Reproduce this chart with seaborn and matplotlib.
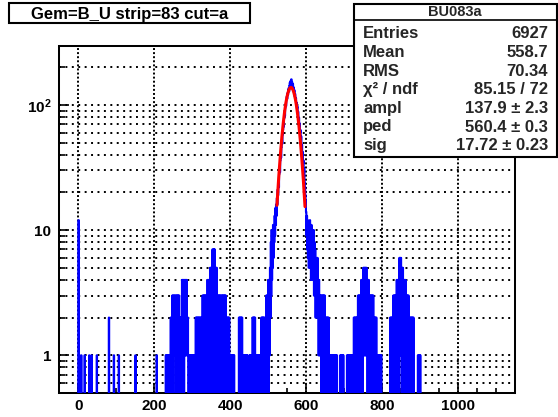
import numpy as np
import pandas as pd
import matplotlib
matplotlib.use("Agg")
import matplotlib.pyplot as plt
import seaborn as sns
from matplotlib.patches import Rectangle
from matplotlib.lines import Line2D
from matplotlib.ticker import FixedLocator, FixedFormatter, MultipleLocator, NullFormatter

# ---- histogram definition: unit-wide ADC bins ----
x_lo, x_hi = -50, 1150

# isolated low-channel entries
single_bins = [0, 7, 16, 28, 34, 48, 80, 93, 106, 150, 206]
single_counts = [12, 1, 1, 1, 1, 1, 2, 1, 1, 1, 1]

# sparse tail regions: bin range, upper count level, lower count level
run_lo = [230, 243, 247, 252, 257, 266, 273, 279, 286, 289, 309, 327, 340, 347, 353, 357,
          360, 365, 371, 376, 389, 398, 423, 433, 451, 459, 466, 472, 482, 491, 495, 500,
          639, 651, 661, 690, 708, 726, 737, 746, 751, 761, 767, 779, 786,
          822, 830, 839, 841, 846, 851, 856, 864, 871, 895]
run_hi = [242, 246, 251, 256, 265, 272, 278, 285, 288, 308, 326, 339, 346, 352, 356, 359,
          364, 370, 375, 388, 397, 410, 432, 446, 458, 465, 468, 481, 490, 494, 499, 502,
          650, 660, 682, 699, 725, 736, 745, 750, 760, 766, 778, 785, 798,
          829, 838, 840, 845, 850, 855, 863, 870, 884, 902]
run_top = [1, 2, 3, 3, 3, 2, 4, 4, 2, 1, 2, 3, 4, 5, 7, 7,
           5, 3, 3, 3, 2, 1, 2, 1, 1, 2, 1, 1, 2, 1, 3, 4,
           3, 2, 1, 1, 1, 2, 3, 4, 5, 4, 3, 2, 1,
           2, 3, 4, 4, 6, 5, 4, 3, 2, 1]
run_base = [0, 0, 0, 1, 0, 0, 0, 1, 1, 0, 0, 0, 0, 0, 0, 1,
            0, 0, 1, 0, 0, 0, 0, 0, 0, 0, 0, 0, 0, 0, 0, 0,
            0, 0, 0, 0, 0, 0, 0, 0, 1, 0, 0, 0, 0,
            0, 0, 1, 0, 1, 0, 0, 0, 0, 0]

# pedestal peak, one count per bin from peak_first
peak_first = 503
peak_counts = [4, 1, 5, 2, 8, 3, 10, 4, 9, 5, 11, 6, 10, 8, 13, 9, 15, 11,
               16, 13, 18, 16, 21, 19, 24, 22, 28, 31,
               29, 36, 40, 38, 46, 52, 49, 58, 63, 70,
               67, 78, 85, 82, 95, 101, 98, 110, 116, 112,
               124, 120, 131, 136, 128, 142, 150, 139, 155, 148,
               160, 145, 152, 141, 147, 133, 138, 126, 131, 117,
               122, 110, 113, 101, 104, 94, 97, 85, 88, 76,
               79, 68, 71, 60, 63, 53, 56, 46, 48, 40,
               42, 34, 36, 29, 31, 24, 22, 19, 17, 14,
               9, 13, 7, 12, 6, 11, 5, 10, 6, 12,
               5, 9, 4, 11, 5, 10, 4, 8, 6, 10,
               3, 8, 3, 7, 2, 6, 3, 5, 2, 6,
               2, 4, 1, 4, 1, 3, 1, 3]

# gaussian fit result
fit_ampl, fit_ped, fit_sig = 137.9, 560.4, 17.72
fit_lo, fit_hi = 523.5, 597.5

title_text = "Gem=B_U strip=83 cut=a"
stats_name = "BU083a"
stats_labels = ["Entries", "Mean", "RMS", "\u03c7\u00b2 / ndf", "ampl", "ped", "sig"]
stats_values = ["6927", "558.7", "70.34", "85.15 / 72",
                "137.9 \u00b1 2.3", "560.4 \u00b1 0.3", "17.72 \u00b1 0.23"]

x_ticks = [0, 200, 400, 600, 800, 1000]
y_ticks = [1, 10, 100]
y_tick_labels = ["1", "10", r"$10^{2}$"]

# ---- fill bin contents ----
counts = np.zeros(x_hi - x_lo)
for b, n in zip(single_bins, single_counts):
    counts[b - x_lo] = n
for lo, hi, top, base in zip(run_lo, run_hi, run_top, run_base):
    for b in range(lo, hi + 1):
        counts[b - x_lo] = top if (b - lo) % 2 == 0 else base
start = peak_first - x_lo
counts[start:start + len(peak_counts)] = peak_counts

centers = np.arange(x_lo, x_hi) + 0.5
# empty bins drop below the log-axis floor
shown = np.where(counts > 0, counts, 0.05)
hist_df = pd.DataFrame({"adc": centers, "entries": shown})

fx = np.linspace(fit_lo, fit_hi, 400)
fit_df = pd.DataFrame({"adc": fx,
                       "entries": fit_ampl * np.exp(-0.5 * ((fx - fit_ped) / fit_sig) ** 2)})

# ---- styling ----
sns.set_theme(style="white")
plt.rcParams["font.family"] = ["Liberation Sans", "DejaVu Sans"]
plt.rcParams["font.weight"] = "bold"
plt.rcParams["mathtext.fontset"] = "custom"
plt.rcParams["mathtext.rm"] = "Liberation Sans:bold"
plt.rcParams["mathtext.bf"] = "Liberation Sans:bold"
plt.rcParams["mathtext.it"] = "Liberation Sans:italic"

W_PX, H_PX = 558, 417
fig = plt.figure(figsize=(W_PX / 100, H_PX / 100), dpi=100)
fig.patch.set_facecolor("white")

def fxp(x):
    return x / W_PX

def fyp(y):
    return 1 - y / H_PX

left, right, top, bottom = 59.5, 514.5, 45.7, 393.0
ax = fig.add_axes([fxp(left), fyp(bottom), (right - left) / W_PX, (bottom - top) / H_PX])
ax.set_facecolor("white")

sns.lineplot(data=hist_df, x="adc", y="entries", ax=ax, color=(0, 0, 1),
             linewidth=1.5, drawstyle="steps-mid", estimator=None, sort=False,
             zorder=3)
sns.lineplot(data=fit_df, x="adc", y="entries", ax=ax, color=(1, 0, 0),
             linewidth=2.2, estimator=None, sort=False, zorder=4)

ax.set_yscale("log")
ax.set_xlim(x_lo, x_hi)
ax.set_ylim(0.5, 297)
ax.set_xlabel("")
ax.set_ylabel("")

ax.xaxis.set_major_locator(FixedLocator(x_ticks))
ax.xaxis.set_minor_locator(MultipleLocator(50))
ax.yaxis.set_major_locator(FixedLocator(y_ticks))
ax.yaxis.set_major_formatter(FixedFormatter(y_tick_labels))
minor_y = [m * 10.0 ** e for e in (-1, 0, 1, 2) for m in range(2, 10)]
minor_y = [v for v in minor_y if 0.5 <= v <= 297]
ax.yaxis.set_minor_locator(FixedLocator(minor_y))
ax.yaxis.set_minor_formatter(NullFormatter())

ax.tick_params(axis="x", which="both", direction="in", top=False, bottom=True,
               labelsize=11, pad=4, colors="black", width=1.2)
ax.tick_params(axis="x", which="major", length=7)
ax.tick_params(axis="x", which="minor", length=3.5)
ax.tick_params(axis="y", which="both", direction="in", left=True, right=False,
               labelsize=11, pad=6, colors="black", width=1.2)
ax.tick_params(axis="y", which="major", length=7.5)
ax.tick_params(axis="y", which="minor", length=4)
for lab in ax.get_xticklabels() + ax.get_yticklabels():
    lab.set_fontweight("bold")

ax.set_axisbelow(True)
ax.xaxis.grid(True, which="major", color="black", linewidth=1.4, linestyle=(0, (1, 1.1)))
ax.yaxis.grid(True, which="both", color="black", linewidth=1.4, linestyle=(0, (1, 2.3)))

for sp in ax.spines.values():
    sp.set_visible(True)
    sp.set_color("black")
    sp.set_linewidth(1.45)

# ---- title box ----
fig.patches.append(Rectangle((fxp(9), fyp(23.3)), (250 - 9) / W_PX, 20 / H_PX,
                             transform=fig.transFigure, facecolor="white",
                             edgecolor="black", linewidth=1.5, zorder=5))
fig.text(fxp(129.5), fyp(19.0), title_text, ha="center", va="baseline",
         fontsize=12, fontweight="bold", color="black", zorder=6)

# ---- statistics box ----
box_l, box_r, box_t, box_b = 353.5, 557.0, 4.0, 157.0
fig.patches.append(Rectangle((fxp(box_l), fyp(box_b)), (box_r - box_l) / W_PX,
                             (box_b - box_t) / H_PX, transform=fig.transFigure,
                             facecolor="white", edgecolor="black", linewidth=1.5,
                             zorder=5))
fig.lines.append(Line2D([fxp(box_l), fxp(box_r)], [fyp(20), fyp(20)],
                        transform=fig.transFigure, color="black", linewidth=1.2,
                        zorder=6))
fig.text(fxp((box_l + box_r) / 2), fyp(16.5), stats_name, ha="center",
         va="baseline", fontsize=10.5, fontweight="bold", zorder=6)
for i, (lab, val) in enumerate(zip(stats_labels, stats_values)):
    yb = 38.5 + 18.6 * i
    fig.text(fxp(363), fyp(yb), lab, ha="left", va="baseline", fontsize=12,
             fontweight="bold", zorder=6)
    fig.text(fxp(548), fyp(yb), val, ha="right", va="baseline", fontsize=12,
             fontweight="bold", zorder=6)

fig.savefig("out.png", dpi=100)
